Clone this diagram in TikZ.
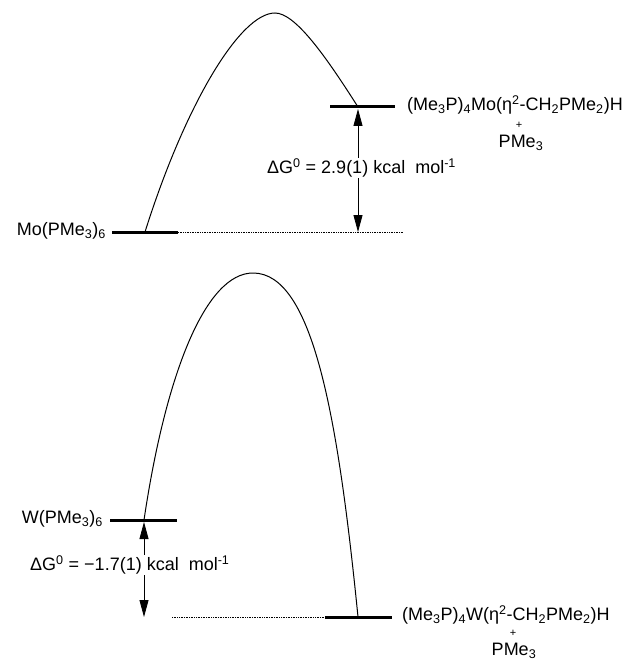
\documentclass[tikz,border=0pt]{standalone}
\usepackage{fontspec}
\setmainfont{Liberation Sans}
\usetikzlibrary{arrows.meta}
\begin{document}
\begin{tikzpicture}[x=1pt,y=-1pt,
  lvl/.style={line width=3pt},
  base/.style={densely dotted, line width=0.7pt},
  curve/.style={line width=1pt},
  dbl/.style={{Triangle[length=17pt,width=9pt]}-{Triangle[length=17pt,width=9pt]}, line width=0.8pt},
  lab/.style={font=\fontsize{18}{21}\selectfont, inner sep=0pt},
  dg/.style={lab, fill=white, inner sep=1pt},
  plus/.style={font=\fontsize{11}{12}\selectfont, inner sep=0pt}
]
\useasboundingbox (0,0) rectangle (633,663);

% ---------- upper diagram (Mo) ----------
\coordinate (moL1) at (112,232);
\coordinate (moL2) at (178,232);
\coordinate (moD2) at (403,232);
\coordinate (moP1) at (330,107);
\coordinate (moP2) at (395,107);
\coordinate (moStart) at (145,232);
\coordinate (moPeak) at (275,13);
\coordinate (moEnd) at (358,107);
\coordinate (moArrTop) at (358,109);
\coordinate (moArrBot) at (358,232);

\draw[lvl] (moL1) -- (moL2);
\draw[base] (moL2) -- (moD2);
\draw[lvl] (moP1) -- (moP2);
\draw[curve] (moStart) .. controls (185,105) and (240,13) .. (moPeak)
                       .. controls (295,13) and (325,55) .. (moEnd);
\draw[dbl] (moArrTop) -- (moArrBot);

\node[lab, anchor=east] (mo) at (106,231) {Mo(PMe\textsubscript{3})\textsubscript{6}};
\node[lab, anchor=west] (moprod) at (407,105) {(Me\textsubscript{3}P)\textsubscript{4}Mo(η\textsuperscript{2}-CH\textsubscript{2}PMe\textsubscript{2})H};
\node[plus] (moplus) at (519,125) {+};
\node[lab] (mopme) at (521,143) {PMe\textsubscript{3}};
\node[dg, anchor=west] (modg) at (266,168) {ΔG\textsuperscript{0} = 2.9(1) kcal\ \ mol\textsuperscript{-1}};

% ---------- lower diagram (W) ----------
\coordinate (wL1) at (110,520);
\coordinate (wL2) at (177,520);
\coordinate (wD1) at (172,617);
\coordinate (wP1) at (325,617);
\coordinate (wP2) at (392,617);
\coordinate (wStart) at (144,520);
\coordinate (wPeak) at (253,273);
\coordinate (wEnd) at (358,617);
\coordinate (wArrTop) at (144,522);
\coordinate (wArrBot) at (144,617);

\draw[lvl] (wL1) -- (wL2);
\draw[base] (wD1) -- (wP1);
\draw[lvl] (wP1) -- (wP2);
\draw[curve] (wStart) .. controls (166,372) and (206,273) .. (wPeak)
                      .. controls (313,273) and (338,417) .. (wEnd);
\draw[dbl] (wArrTop) -- (wArrBot);

\node[lab, anchor=east] (w) at (103,519) {W(PMe\textsubscript{3})\textsubscript{6}};
\node[lab, anchor=west] (wprod) at (402,615) {(Me\textsubscript{3}P)\textsubscript{4}W(η\textsuperscript{2}-CH\textsubscript{2}PMe\textsubscript{2})H};
\node[plus] (wplus) at (513,633) {+};
\node[lab] (wpme) at (514,651) {PMe\textsubscript{3}};
\node[dg, anchor=west] (wdg) at (29,565) {ΔG\textsuperscript{0} = −1.7(1) kcal\ \ mol\textsuperscript{-1}};
\end{tikzpicture}
\end{document}
